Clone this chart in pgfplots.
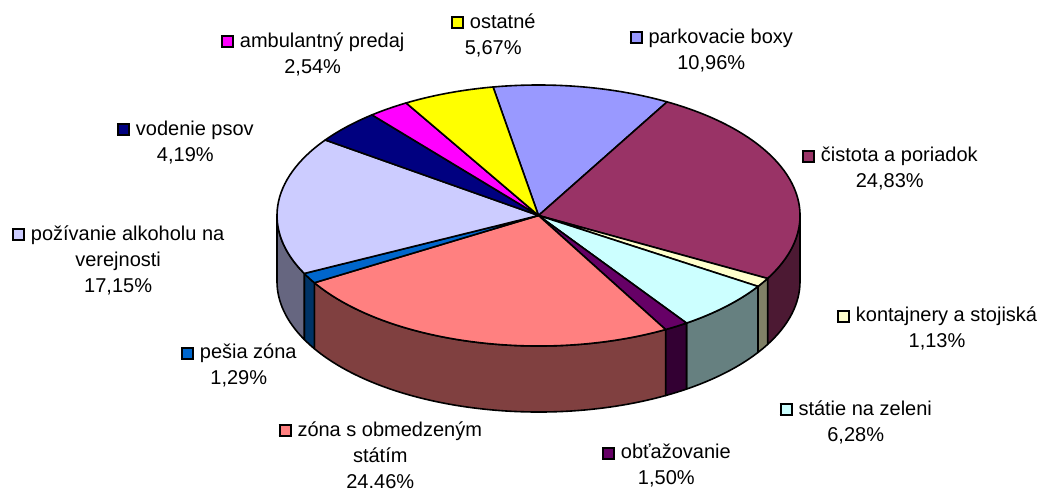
\documentclass[border=0pt]{standalone}
\usepackage{pgfplots}
\pgfplotsset{compat=1.18}
\usepackage{fontspec}
\setmainfont{Liberation Sans}

\definecolor{cpark}{HTML}{9999FF}
\definecolor{ccist}{HTML}{993366}
\definecolor{ckont}{HTML}{FFFFCC}
\definecolor{cstat}{HTML}{CCFFFF}
\definecolor{cobta}{HTML}{660066}
\definecolor{czona}{HTML}{FF8080}
\definecolor{cpesi}{HTML}{0066CC}
\definecolor{cpozi}{HTML}{CCCCFF}
\definecolor{cvode}{HTML}{000080}
\definecolor{cambu}{HTML}{FF00FF}
\definecolor{costa}{HTML}{FFFF00}

% share (%) / colour, clockwise from the first slice
\def\slices{10.96/cpark,24.83/ccist,1.13/ckont,6.28/cstat,1.50/cobta,24.46/czona,1.29/cpesi,17.15/cpozi,4.19/cvode,2.54/cambu,5.67/costa}
\def\startangle{100}
\def\cx{538.5}\def\cy{275.5}
\def\rx{261.5pt}\def\ry{130.5pt}\def\depth{66pt}

\newcommand\sq[1]{{\setlength\fboxsep{0pt}\setlength\fboxrule{2pt}\raisebox{1pt}{\fcolorbox{black}{#1}{\rule{0pt}{9pt}\rule{9pt}{0pt}}}}\hspace{6pt}}

\begin{document}
\begin{tikzpicture}
\path[use as bounding box] (0,0) rectangle (1042pt,491pt);
\begin{axis}[hide axis, scale only axis, width=1042pt, height=491pt,
  xmin=0, xmax=1042, ymin=0, ymax=491, clip=false,
  anchor=origin, at={(0,0)}]
% side walls
\xdef\angA{\startangle}
\foreach \p/\c in \slices {
  \pgfmathsetmacro\angB{\angA-3.6*\p}
  \pgfmathsetmacro\lo{max(\angB,-180)}
  \pgfmathsetmacro\hi{min(\angA,0)}
  \ifdim\hi pt>\lo pt
    \edef\cmd{\noexpand\fill[fill=\c!50!black, draw=black, line width=1.6pt, line join=round]
      (axis cs:\cx,\cy) ++(\hi:\rx\space and \ry) arc[start angle=\hi, end angle=\lo, x radius=\rx, y radius=\ry]
      -- ++(0pt,-\depth) arc[start angle=\lo, end angle=\hi, x radius=\rx, y radius=\ry] -- cycle;}
    \cmd
  \fi
  \xdef\angA{\angB}
}
% top faces
\xdef\angA{\startangle}
\foreach \p/\c in \slices {
  \pgfmathsetmacro\angB{\angA-3.6*\p}
  \edef\cmd{\noexpand\fill[fill=\c, draw=black, line width=1.6pt, line join=round]
    (axis cs:\cx,\cy) -- ++(\angA:\rx\space and \ry) arc[start angle=\angA, end angle=\angB, x radius=\rx, y radius=\ry] -- cycle;}
  \cmd
  \xdef\angA{\angB}
}
% labels
\tikzset{lab/.style={anchor=north west, inner sep=0pt, align=center, font=\fontsize{20}{26}\selectfont}}
\node[lab] at (axis cs:220.7,462.2) {\sq{cambu}ambulantný predaj\strut\\2,54\%};
\node[lab] at (axis cs:450.7,480.9) {\sq{costa}ostatné\strut\\5,67\%};
\node[lab] at (axis cs:629.3,465.9) {\sq{cpark}parkovacie boxy\strut\\10,96\%};
\node[lab] at (axis cs:116.7,374.2) {\sq{cvode}vodenie psov\strut\\4,19\%};
\node[lab] at (axis cs:11.7,269.2) {\sq{cpozi}požívanie alkoholu na\strut\\verejnosti\\17,15\%};
\node[lab] at (axis cs:801.7,347.5) {\sq{ccist}čistota a poriadok\strut\\24,83\%};
\node[lab] at (axis cs:836.7,187.5) {\sq{ckont}kontajnery a stojiská\strut\\1,13\%};
\node[lab] at (axis cs:180.7,150.9) {\sq{cpesi}pešia zóna\strut\\1,29\%};
\node[lab] at (axis cs:278.3,73.2) {\sq{czona}zóna s obmedzeným\strut\\státím\\24.46\%};
\node[lab] at (axis cs:779.3,94.2) {\sq{cstat}státie na zeleni\strut\\6,28\%};
\node[lab] at (axis cs:601.7,50.9) {\sq{cobta}obťažovanie\strut\\1,50\%};
\end{axis}
\end{tikzpicture}
\end{document}
